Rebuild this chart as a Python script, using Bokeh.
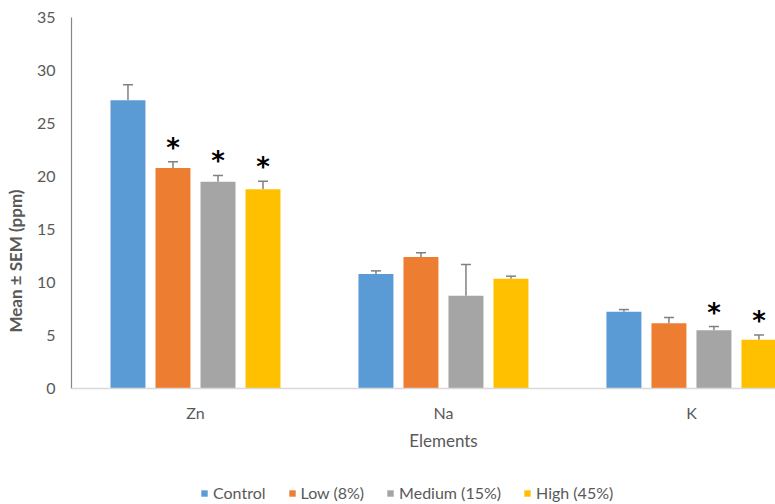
from bokeh.plotting import figure
from bokeh.models import (ColumnDataSource, Range1d, FixedTicker, Whisker, TeeHead,
                          Legend, LegendItem, Span)
from bokeh.core.properties import value
from bokeh.embed import file_html
from bokeh.resources import INLINE

# ---- data ----
elements = ["Zn", "Na", "K"]
series = ["Control", "Low (8%)", "Medium (15%)", "High (45%)"]
control = [27.2, 10.8, 7.25]
control_sem = [1.45, 0.3, 0.2]
low = [20.8, 12.4, 6.15]
low_sem = [0.6, 0.4, 0.55]
medium = [19.5, 8.75, 5.5]
medium_sem = [0.6, 2.95, 0.35]
high = [18.8, 10.35, 4.6]
high_sem = [0.75, 0.25, 0.45]
control_sig = [False, False, False]
low_sig = [True, False, False]
medium_sig = [True, False, True]
high_sig = [True, False, True]
y_ticks = [0, 5, 10, 15, 20, 25, 30, 35]
x_title = "Elements"
y_title = "Mean ± SEM (ppm)"

colors = ["#5B9BD5", "#ED7D31", "#A5A5A5", "#FFC000"]
means = [control, low, medium, high]
sems = [control_sem, low_sem, medium_sem, high_sem]
sigs = [control_sig, low_sig, medium_sig, high_sig]

FONT = "Lato"
GREY = "#595959"

# frame spans the whole lower area so that the legend and axis texts can sit inside it
p = figure(width=775, height=504, x_range=Range1d(0, 2.839), y_range=Range1d(-10.94, 35),
           output_backend="svg", toolbar_location=None, x_axis_location=None,
           min_border_left=71, min_border_right=0, min_border_top=17, min_border_bottom=0)
p.outline_line_color = None
p.xgrid.grid_line_color = None
p.ygrid.grid_line_color = None

# category axis line at y = 0
p.add_layout(Span(location=0, dimension="width", line_color="#D9D9D9", line_width=1.5))

step = 0.1815
bar_w = 0.141
items = []
for i, name in enumerate(series):
    off = (i - 1.5) * step
    xs = [k + 0.5 + off for k in range(len(elements))]
    ups = [m + s for m, s in zip(means[i], sems[i])]
    src = ColumnDataSource(dict(x=xs, top=means[i], upper=ups))
    r = p.vbar(x="x", top="top", bottom=0, width=bar_w, source=src, fill_color=colors[i],
               line_color=None)
    w = Whisker(base="x", lower="top", upper="upper", source=src, dimension="height",
                line_color="#808080", line_width=1.5, lower_head=None,
                upper_head=TeeHead(size=10, line_color="#808080", line_width=1.5))
    p.add_layout(w)
    sx = [x for x, s in zip(xs, sigs[i]) if s]
    sy = [u for u, s in zip(ups, sigs[i]) if s]
    if sx:
        ssrc = ColumnDataSource(dict(x=sx, y=sy))
        p.text(x="x", y="y", text=value("*"), source=ssrc, text_align="center",
               text_baseline="alphabetic", y_offset=-14, text_font=value("DejaVu Sans"),
               text_font_size="26px", text_font_style="bold", text_color="black")
    items.append(LegendItem(label=name, renderers=[r]))

# category labels and x title (as text under the y = 0 line)
cat_src = ColumnDataSource(dict(x=[k + 0.5 for k in range(len(elements))], y=[0] * len(elements),
                                t=elements))
p.text(x="x", y="y", text="t", source=cat_src, y_offset=24, text_align="center",
       text_baseline="middle", text_font=value(FONT), text_font_size="16px", text_color=GREY)
p.text(x=[len(elements) / 2], y=[0], text=[x_title], y_offset=52, text_align="center",
       text_baseline="middle", text_font=value(FONT), text_font_size="17px", text_color=GREY)

# y axis
p.yaxis.ticker = FixedTicker(ticks=y_ticks)
p.yaxis.bounds = (0, 35)
p.yaxis.major_tick_line_color = None
p.yaxis.major_tick_out = 0
p.yaxis.minor_tick_line_color = None
p.yaxis.axis_line_color = "#868686"
p.yaxis.axis_line_width = 1.2
p.yaxis.major_label_standoff = 16
p.yaxis.major_label_text_font = FONT
p.yaxis.major_label_text_font_size = "16px"
p.yaxis.major_label_text_color = GREY
p.yaxis.axis_label = y_title
p.yaxis.axis_label_text_font = FONT
p.yaxis.axis_label_text_font_size = "17px"
p.yaxis.axis_label_text_font_style = "bold"
p.yaxis.axis_label_text_color = GREY
p.yaxis.axis_label_standoff = 8

legend = Legend(items=items, orientation="horizontal", location=(129, 2),
                glyph_width=8, glyph_height=8, label_standoff=5, spacing=22,
                label_text_font=FONT, label_text_font_size="16px", label_text_color=GREY,
                border_line_color=None, background_fill_alpha=0, padding=0, margin=0)
p.add_layout(legend, "center")

open("out.html", "w").write(file_html(p, INLINE))
